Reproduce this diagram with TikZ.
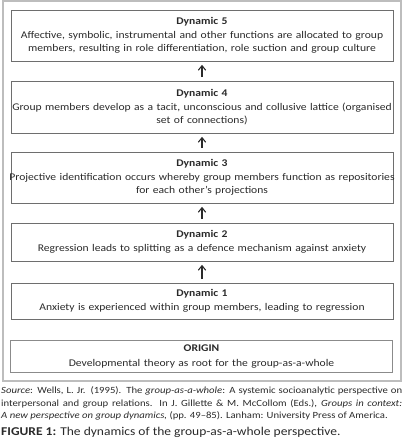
\documentclass[tikz,border=0pt]{standalone}
\usepackage{fontspec}
\setmainfont{Carlito}[FakeStretch=1.13]
\usetikzlibrary{positioning,arrows.meta}
\definecolor{framegray}{HTML}{BDBDBD}
\definecolor{boxgray}{HTML}{6E6E6E}
\definecolor{inkgray}{HTML}{2A2A2A}
\tikzset{
  uparrow/.style={-{Straight Barb[length=1.6mm, width=2.6mm]}, line width=1.1pt, inkgray, shorten <=3.5bp, shorten >=3.5bp},
  dynbox/.style={draw=boxgray, line width=0.7pt, minimum width=382bp, text width=392bp, align=center,
    inner xsep=-5bp, inner ysep=0pt, text=inkgray, font=\fontsize{10.3}{13}\selectfont},
  originbox/.style={dynbox, draw=boxgray!80, line width=1pt},
  outerframe/.style={draw=framegray, line width=2bp},
  captext/.style={anchor=north west, inner sep=0pt, text=inkgray, align=justify}
}
\newcommand{\boxhead}[1]{\textbf{#1}\\[1.5pt]}
\begin{document}
\begin{tikzpicture}[x=1bp, y=-1bp, >=Latex]
  \useasboundingbox (0,0) rectangle (403,443);
  \draw[outerframe] (3,1) rectangle (401,381);
  % the dynamics, from top to bottom
  \node[dynbox, minimum height=51bp] (d5) at (202,35.5)
    {\boxhead{Dynamic 5}Affective, symbolic, instrumental and other functions are allocated to group\\
     members, resulting in role differentiation, role suction and group culture};
  \node[dynbox, minimum height=52bp] (d4) at (202,107)
    {\boxhead{Dynamic 4}Group members develop as a tacit, unconscious and collusive lattice (organised\\
     set of connections)};
  \node[dynbox, minimum height=51bp] (d3) at (202,177.5)
    {\boxhead{Dynamic 3}Projective identification occurs whereby group members function as repositories\\
     for each other’s projections};
  \node[dynbox, minimum height=38bp] (d2) at (202,242)
    {\boxhead{Dynamic 2}Regression leads to splitting as a defence mechanism against anxiety};
  \node[dynbox, minimum height=36bp] (d1) at (202,301)
    {\boxhead{Dynamic 1}Anxiety is experienced within group members, leading to regression};
  \node[originbox, minimum height=32bp] (orig) at (201.5,356.5)
    {\boxhead{ORIGIN}Developmental theory as root for the group-as-a-whole};
  \draw[uparrow] (d4) -- (d5);
  \draw[uparrow] (d3) -- (d4);
  \draw[uparrow] (d2) -- (d3);
  \draw[uparrow] (d1) -- (d2);
  % source and caption
  \node[captext, text width=401bp, font=\fontsize{9.5}{12.6}\selectfont] (src) at (1,386.5)
    {\textit{Source}: Wells, L. Jr. (1995). The \textit{group-as-a-whole}: A systemic socioanalytic perspective on\linebreak
     interpersonal and group relations. In J. Gillette \& M. McCollom (Eds.), \textit{Groups in context:\linebreak
     A new perspective on group dynamics,} (pp. 49–85). Lanham: University Press of America.};
  \node[captext, font=\fontsize{12}{14}\selectfont, below right=6bp and 0bp of src.south west, anchor=north west] (cap)
    {\textbf{FIGURE 1:} The dynamics of the group-as-a-whole perspective.};
\end{tikzpicture}
\end{document}
